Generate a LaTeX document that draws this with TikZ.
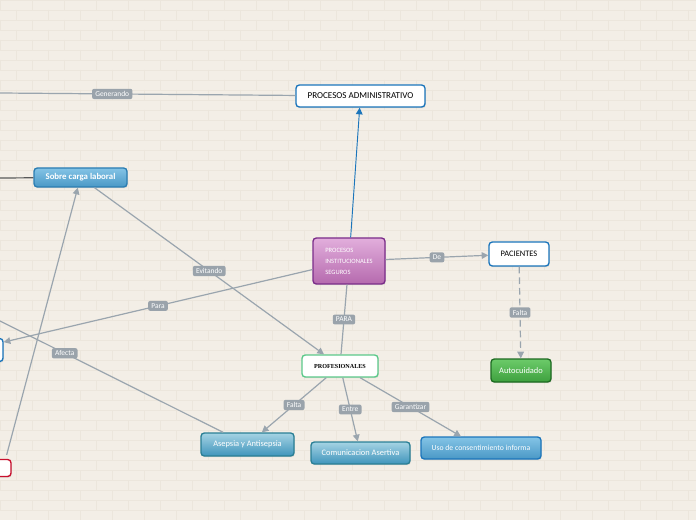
\documentclass[tikz,border=0pt]{standalone}
\usepackage{fontspec}
\setmainfont{Carlito}
\newfontfamily\serifbold{Liberation Serif}
\usetikzlibrary{arrows.meta,shadows}
\definecolor{paper}{HTML}{F3EEE6}
\definecolor{brick}{HTML}{ECE6DC}
\definecolor{lblgray}{HTML}{9AA3AB}
\definecolor{linkgray}{HTML}{9AA5AE}
\definecolor{topicblue}{HTML}{1B75BB}
\definecolor{skytop}{HTML}{84C4E6}
\definecolor{skybot}{HTML}{4A98C6}
\definecolor{skyline}{HTML}{2B7DB2}
\definecolor{tealline}{HTML}{2A7F95}
\definecolor{mauvetop}{HTML}{E2AEDC}
\definecolor{mauvebot}{HTML}{B56AAE}
\definecolor{mauveline}{HTML}{7B2D8A}
\definecolor{leaftop}{HTML}{6CCB6A}
\definecolor{leafbot}{HTML}{3EA03E}
\definecolor{leafline}{HTML}{1E6B22}
\definecolor{mint}{HTML}{5BC98A}
\definecolor{alertred}{HTML}{C8102E}

\begin{document}
\begin{tikzpicture}[x=0.75pt,y=-0.75pt,line width=0.9pt,
    >={Triangle[width=5pt,length=5pt]},
    lbl/.style={fill=lblgray,text=white,rounded corners=1.5pt,inner xsep=2.4pt,inner ysep=1.9pt,
      font=\fontsize{5.6}{6}\selectfont},
    box/.style={rounded corners=2.5pt,line width=1pt,inner sep=0pt,align=center,
      font=\fontsize{6.3}{7}\selectfont,
      drop shadow={opacity=0.2,shadow xshift=0.6pt,shadow yshift=-0.9pt}},
    whitebox/.style={box,fill=white,draw=topicblue},
    skybox/.style={box,draw=skyline,top color=skytop,bottom color=skybot,text=white},
    link/.style={draw=linkgray}]

  \useasboundingbox (0,0) rectangle (696,520);
  \clip (0,0) rectangle (696,520);
  \fill[paper] (0,0) rectangle (696,520);
  % brick wall
  \foreach \r in {0,...,52} {
    \draw[brick,line width=0.5pt] (0,\r*10) -- (696,\r*10);
    \foreach \c in {0,...,23}
      \draw[brick,line width=0.5pt] ({\c*32+mod(\r,2)*16},\r*10) -- ++(0,10);
  }

  \node[whitebox,minimum width=96.75pt,minimum height=16.5pt,font=\fontsize{6.8}{7}\selectfont]
    (padm) at (360.5,96) {PROCESOS ADMINISTRATIVO};
  \node[box,draw=mauveline,top color=mauvetop,bottom color=mauvebot,text=white,
    minimum width=54pt,minimum height=34.5pt,align=left,font=\fontsize{4.9}{8.2}\selectfont]
    (seguros) at (349,261) {PROCESOS\\INSTITUCIONALES\\SEGUROS};
  \node[whitebox,minimum width=45pt,minimum height=18pt] (pacientes) at (519,254) {PACIENTES};
  \node[box,draw=leafline,top color=leaftop,bottom color=leafbot,text=white,
    minimum width=45pt,minimum height=17.25pt] (auto) at (521,370.5) {Autocuidado};
  \node[box,fill=white,draw=mint,minimum width=57pt,minimum height=16.5pt,
    font=\serifbold\bfseries\fontsize{4.6}{5}\selectfont] (prof) at (340,366) {PROFESIONALES};
  \node[skybox,minimum width=69.75pt,minimum height=14.25pt,font=\bfseries\fontsize{6.6}{7}\selectfont]
    (sobrecarga) at (80.5,177.5) {Sobre carga laboral};
  \node[skybox,draw=tealline,top color=skytop!80!teal!60,bottom color=skybot!85!teal,
    minimum width=69.75pt,minimum height=17.25pt] (asepsia) at (247.5,444.5) {Asepsia y Antisepsia};
  \node[skybox,draw=tealline,top color=skytop!80!teal!60,bottom color=skybot!85!teal,
    minimum width=74.25pt,minimum height=16.5pt] (comunica) at (360.5,453) {Comunicacion Asertiva};
  \node[skybox,draw=topicblue,minimum width=90pt,minimum height=16.5pt,
    font=\fontsize{5.8}{7}\selectfont] (uso) at (481,448) {Uso de consentimiento informa};
  \node[whitebox,minimum width=49.5pt,minimum height=17.25pt] (cutleft) at (-30,350) {};
  \node[whitebox,draw=alertred,minimum width=54pt,minimum height=12.75pt] (cutred) at (-25,468) {};

  \coordinate (genfrom) at (0,93);
  \coordinate (loadfrom) at (0,178);
  \coordinate (afectafrom) at (0,321);

  \draw[link] (genfrom) -- node[lbl,pos=0.38] {Generando} (padm);
  \draw[draw=black!65] (loadfrom) -- (sobrecarga);
  \draw[->,draw=topicblue,line width=0.7pt] (seguros) -- (padm);
  \draw[->,link] (seguros) -- node[lbl] {De} (pacientes);
  \draw[->,link,dashed,dash pattern=on 5pt off 3pt] (pacientes) -- node[lbl] {Falta} (auto);
  \draw[link] (seguros) -- node[lbl] {PARA} (prof);
  \draw[->,link] (sobrecarga) -- node[lbl] {Evitando} (prof);
  \draw[->,link] (seguros) -- node[lbl] {Para} (cutleft);
  \draw[->,link] ([xshift=-3.75pt,yshift=3pt]cutred.north east) -- (sobrecarga);
  \draw[link] (afectafrom) -- node[lbl,pos=0.29] {Afecta} (asepsia);
  \draw[->,link] (prof) -- node[lbl] {Falta} (asepsia);
  \draw[->,link] (prof) -- node[lbl] {Entre} (comunica);
  \draw[->,link] (prof) -- node[lbl] {Garantizar} (uso);

\end{tikzpicture}
\end{document}
